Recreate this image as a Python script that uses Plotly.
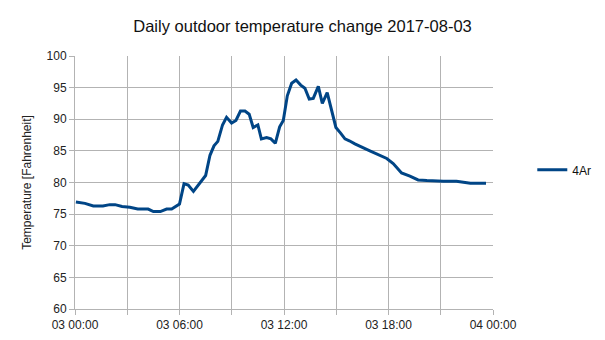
import plotly.graph_objects as go

# hours after midnight of 2017-08-03 and temperature readings (°F)
hours = [0.05, 0.57, 1.05, 1.6, 2.0, 2.3, 2.7, 3.15, 3.6, 4.2, 4.5, 4.9, 5.26, 5.55, 6.0,
         6.26, 6.5, 6.8, 7.5, 7.75, 7.98, 8.2, 8.47, 8.7, 8.99, 9.24, 9.5, 9.76, 10.0,
         10.23, 10.5, 10.7, 11.0, 11.25, 11.5, 11.75, 11.96, 12.19, 12.44, 12.69, 12.96,
         13.2, 13.45, 13.68, 13.97, 14.2, 14.48, 14.73, 14.98, 15.25, 15.5, 15.75, 16.07,
         16.93, 17.9, 18.27, 18.75, 19.23, 19.7, 20.2, 20.67, 21.15, 21.9, 22.3, 22.7, 23.6]
temps = [76.9, 76.7, 76.3, 76.3, 76.5, 76.5, 76.2, 76.1, 75.8, 75.8, 75.4, 75.4, 75.8, 75.8, 76.6,
         79.8, 79.6, 78.6, 81.1, 84.3, 85.8, 86.5, 89.1, 90.3, 89.4, 89.8, 91.3, 91.3, 90.8,
         88.7, 89.1, 86.9, 87.1, 86.9, 86.2, 88.8, 89.8, 93.7, 95.7, 96.2, 95.4,
         94.9, 93.2, 93.3, 95.2, 92.5, 94.2, 91.2, 88.7, 87.8, 86.9, 86.6, 86.1,
         85.0, 83.8, 83.0, 81.5, 81.0, 80.4, 80.3, 80.2, 80.2, 80.2, 80.0, 79.9, 79.9]

def stamp(h):
    total = int(round(h * 3600))
    d = 3 + total // 86400
    rem = total % 86400
    return f"2017-08-{d:02d} {rem // 3600:02d}:{(rem % 3600) // 60:02d}:{rem % 60:02d}"

x = [stamp(h) for h in hours]

tick_hours = [0, 3, 6, 9, 12, 15, 18, 21, 24]
tick_labels = ["03 00:00", "", "03 06:00", "", "03 12:00", "", "03 18:00", "", "04 00:00"]
tick_vals = [stamp(h) for h in tick_hours]

fig = go.Figure()
fig.add_trace(go.Scatter(x=x, y=temps, mode="lines", name="4Ar",
                         line=dict(color="#004586", width=3)))

grid = "#b3b3b3"
fig.update_layout(
    width=605, height=340,
    margin=dict(l=75, r=112, t=56, b=31, autoexpand=False),
    paper_bgcolor="white", plot_bgcolor="white",
    font=dict(family="Liberation Sans, Arial, sans-serif", size=12, color="#222"),
    title=dict(text="Daily outdoor temperature change 2017-08-03", x=0.5, xref="container",
               xanchor="center", y=0.923, yref="container", yanchor="middle",
               font=dict(size=16.5, color="#111")),
    showlegend=True,
    legend=dict(x=1.094, y=0.55, xanchor="left", yanchor="middle",
                font=dict(size=12, color="#111"), bgcolor="rgba(0,0,0,0)"),
    xaxis=dict(range=[stamp(0), stamp(24)], tickvals=tick_vals, ticktext=tick_labels,
               showgrid=True, gridcolor=grid, gridwidth=1, automargin=False,
               showline=True, linecolor=grid, linewidth=1,
               ticks="outside", ticklen=5, tickcolor=grid, zeroline=False,
               tickfont=dict(size=12, color="#222")),
    yaxis=dict(range=[60, 100], dtick=5, tick0=60, automargin=False,
               showgrid=True, gridcolor=grid, gridwidth=1,
               showline=True, linecolor=grid, linewidth=1,
               ticks="outside", ticklen=5, tickcolor=grid, zeroline=False,
               title=dict(text="Temperature [Fahrenheit]", font=dict(size=12, color="#222"),
                          standoff=12),
               tickfont=dict(size=12, color="#222")),
)

fig.write_html("out.html", config={"displayModeBar": False},
               post_script="document.body.style.margin='0';")
